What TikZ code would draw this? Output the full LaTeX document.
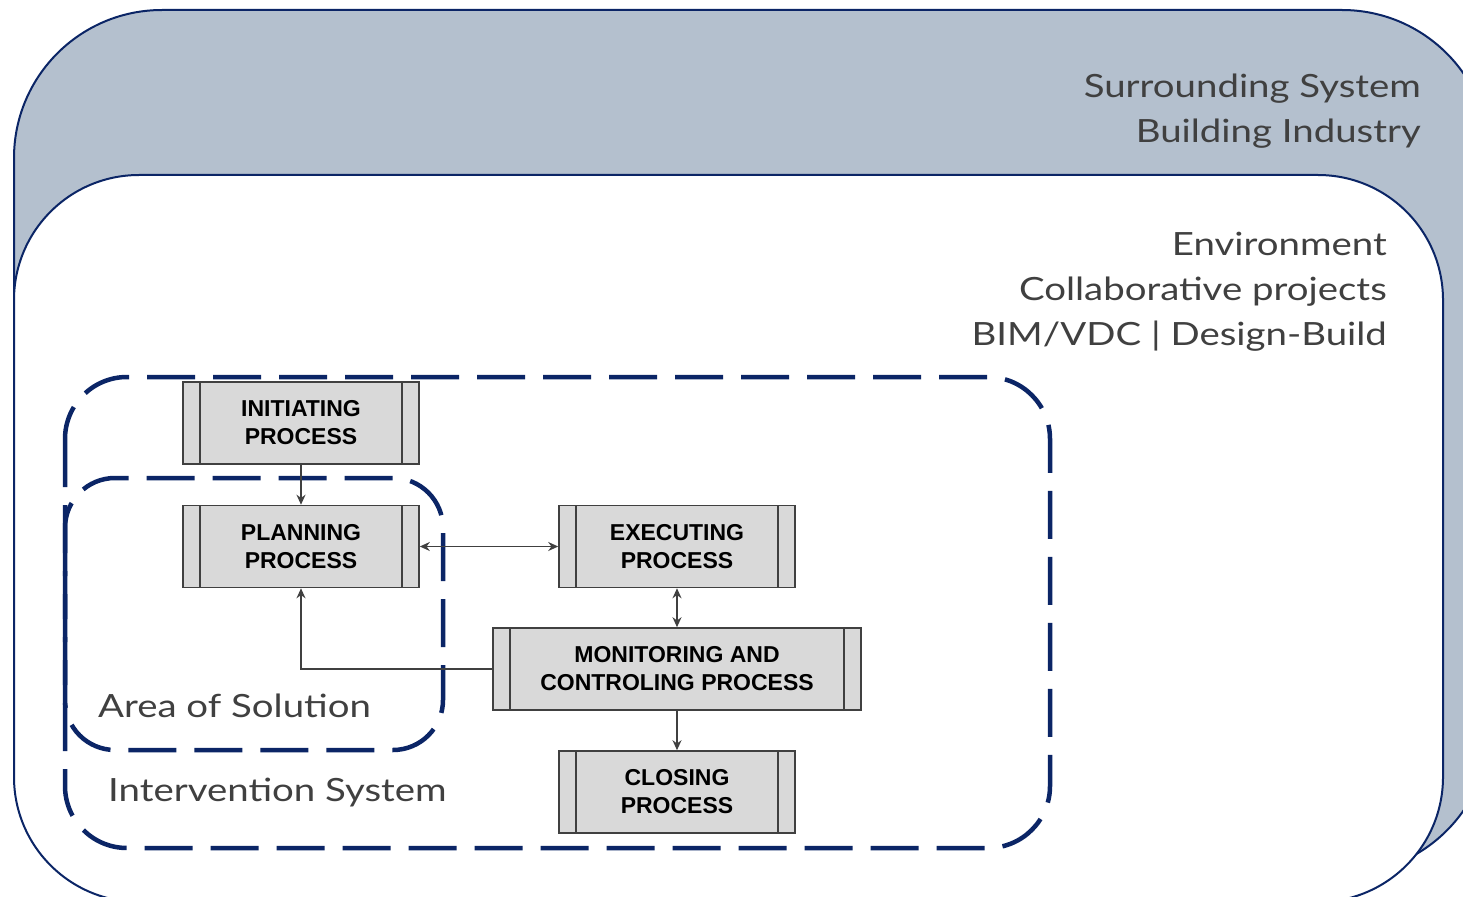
\documentclass[tikz,border=0pt]{standalone}
\usepackage{fontspec}
\setmainfont{Lato}[FakeStretch=1.2]
\newfontfamily\boxfont{Liberation Sans}
\usetikzlibrary{arrows.meta}
\definecolor{navy}{HTML}{0B2566}
\definecolor{sysfill}{HTML}{B4C0CE}
\definecolor{boxfill}{HTML}{D9D9D9}
\definecolor{boxline}{HTML}{404040}
\definecolor{labeltext}{HTML}{404040}
\tikzset{
  procbox/.style={draw=boxline, line width=1.6pt, fill=boxfill, minimum height=82pt,
    inner sep=0pt, align=center, text=black,
    font=\boxfont\bfseries\fontsize{23}{28}\selectfont,
    path picture={
      \draw[boxline, line width=1.6pt]
        ([xshift=17pt]path picture bounding box.north west) -- ([xshift=17pt]path picture bounding box.south west)
        ([xshift=-17pt]path picture bounding box.north east) -- ([xshift=-17pt]path picture bounding box.south east);
    }},
  conn/.style={draw=boxline, line width=1.5pt, -{Stealth[length=10pt,width=9pt]}},
  bconn/.style={draw=boxline, line width=1.5pt, {Stealth[length=10pt,width=9pt]}-{Stealth[length=10pt,width=9pt]}},
  sysline/.style={draw=navy, line width=2pt},
  dashbox/.style={draw=navy, line width=4.5pt, dash pattern=on 48pt off 18pt},
  lbl/.style={inner sep=0pt, text=labeltext, font=\fontsize{32}{45}\selectfont},
}
\begin{document}
\begin{tikzpicture}[x=1pt,y=-1pt]
\useasboundingbox (0,0) rectangle (1463,896);
\begin{scope}
\clip (0,0) rectangle (1463,896);
\path[sysline, fill=sysfill, rounded corners=148pt] (14,10) rectangle (1490,874);
\path[sysline, fill=white, rounded corners=125pt] (14,175) rectangle (1443,902);
\end{scope}

\node[lbl, anchor=east, align=right] (surr) at (1421,111) {Surrounding System\\Building Industry};
\node[lbl, anchor=east, align=right] (env) at (1387,292) {Environment\\Collaborative projects\\BIM/VDC | Design-Build};

\path[dashbox, rounded corners=62pt] (65,377) rectangle (1050,848);
\path[dashbox, rounded corners=50pt] (65,478) rectangle (443,750);

\node[lbl, anchor=west] (area) at (98,706) {Area of Solution};
\node[lbl, anchor=west] (interv) at (108,793) {Intervention System};

\node[procbox, minimum width=236pt] (init) at (301,423) {INITIATING\\PROCESS};
\node[procbox, minimum width=236pt] (plan) at (301,546.5) {PLANNING\\PROCESS};
\node[procbox, minimum width=236pt] (exec) at (677,546.5) {EXECUTING\\PROCESS};
\node[procbox, minimum width=368pt] (mon) at (677,669) {MONITORING AND\\CONTROLING PROCESS};
\node[procbox, minimum width=236pt] (close) at (677,792) {CLOSING\\PROCESS};

\draw[conn] (init.south) -- (plan.north);
\draw[bconn] (plan.east) -- (exec.west);
\draw[bconn] (exec.south) -- (mon.north);
\draw[conn] (mon.west) -| (plan.south);
\draw[conn] (mon.south) -- (close.north);
\end{tikzpicture}
\end{document}
